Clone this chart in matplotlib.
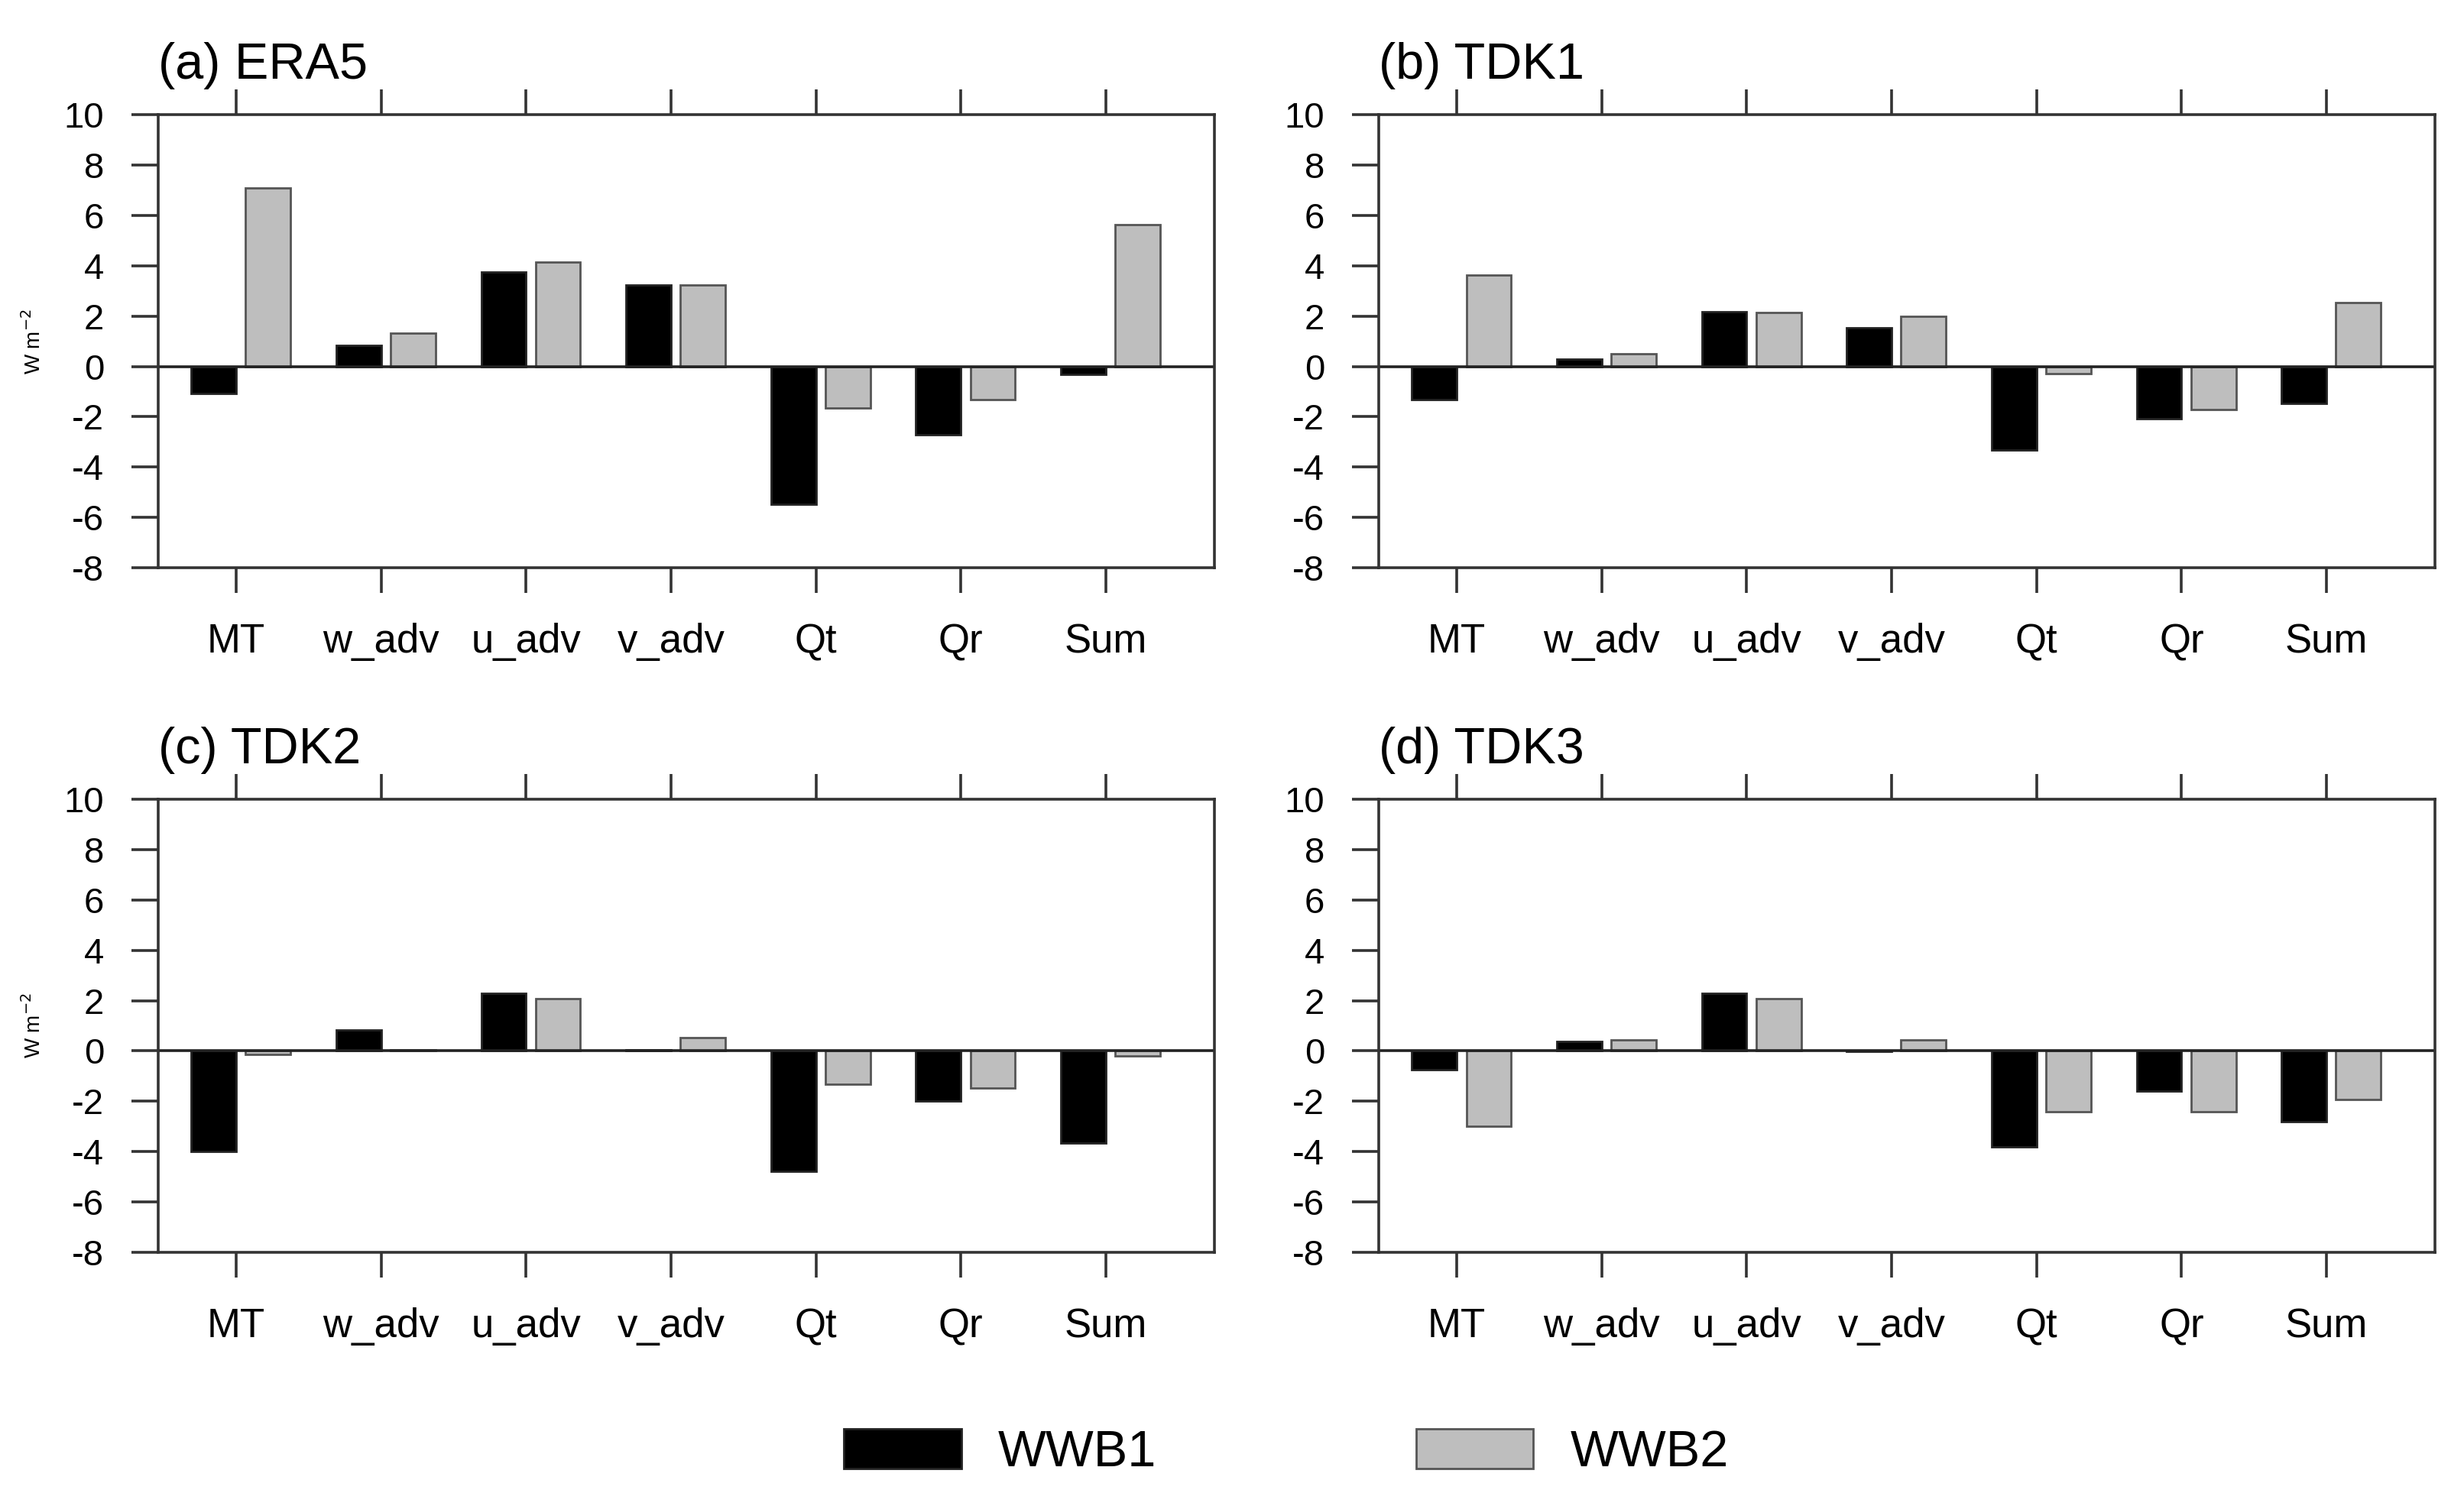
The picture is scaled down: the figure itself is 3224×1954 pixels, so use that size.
import matplotlib
matplotlib.use("Agg")
import matplotlib.pyplot as plt
import numpy as np

plt.rcParams['font.family'] = ['Liberation Sans', 'DejaVu Sans']

# categories and panels
terms = ['MT', 'w_adv', 'u_adv', 'v_adv', 'Qt', 'Qr', 'Sum']
titles = ['(a) ERA5', '(b) TDK1', '(c) TDK2', '(d) TDK3']

# WWB1 / WWB2 values (W m-2)
era5_wwb1 = [-1.08, 0.84, 3.76, 3.24, -5.47, -2.72, -0.33]
era5_wwb2 = [7.10, 1.32, 4.15, 3.22, -1.64, -1.31, 5.64]
tdk1_wwb1 = [-1.32, 0.28, 2.16, 1.53, -3.31, -2.09, -1.48]
tdk1_wwb2 = [3.64, 0.49, 2.13, 2.00, -0.30, -1.72, 2.54]
tdk2_wwb1 = [-4.00, 0.82, 2.28, 0.03, -4.77, -2.00, -3.66]
tdk2_wwb2 = [-0.14, 0.03, 2.09, 0.52, -1.31, -1.48, -0.21]
tdk3_wwb1 = [-0.75, 0.37, 2.28, -0.02, -3.80, -1.60, -2.80]
tdk3_wwb2 = [-3.00, 0.45, 2.09, 0.45, -2.42, -2.42, -1.92]

wwb1_all = [era5_wwb1, tdk1_wwb1, tdk2_wwb1, tdk3_wwb1]
wwb2_all = [era5_wwb2, tdk1_wwb2, tdk2_wwb2, tdk3_wwb2]

yticks = np.arange(-8, 11, 2)

fig = plt.figure(figsize=(16.12, 9.77), dpi=200)

w_ax, h_ax = 0.4287, 0.3035
positions = [(0.0642, 0.6197), (0.5596, 0.6197),
             (0.0642, 0.1612), (0.5596, 0.1612)]

x = np.arange(1, len(terms) + 1)
bw = 0.31
gap = 0.065

for i in range(4):
    ax = fig.add_axes([positions[i][0], positions[i][1], w_ax, h_ax])

    b1 = ax.bar(x - bw / 2, wwb1_all[i], bw, color='black', edgecolor='#222222', linewidth=1.0)
    b2 = ax.bar(x + gap + bw / 2, wwb2_all[i], bw, color='#bebebe', edgecolor='#555555', linewidth=1.0)
    ax.axhline(0, color='#222222', linewidth=1.3)

    ax.set_xlim(0.462, 7.75)
    ax.set_ylim(-8, 10)
    ax.set_yticks(yticks)
    ax.set_yticklabels([str(v) for v in yticks])
    ax.set_xticks(x)
    ax.set_xticklabels(terms)

    ax.tick_params(axis='y', direction='out', length=12.5, width=1.3, pad=13,
                   labelsize=17, left=True, right=False, colors='#333333', labelcolor='black')
    ax.tick_params(axis='x', direction='out', length=12, width=1.3, pad=14,
                   labelsize=19, top=True, bottom=True, labeltop=False,
                   colors='#333333', labelcolor='black')
    for s in ax.spines.values():
        s.set_linewidth(1.3)
        s.set_color('#333333')

    ax.set_title(titles[i], loc='left', fontsize=24, pad=17)

    if i % 2 == 0:
        ax.set_ylabel('W m$^{-2}$', fontsize=10, labelpad=9)

fig.legend([b1, b2], ['WWB1', 'WWB2'], loc='center', bbox_to_anchor=(0.522, 0.027),
           ncol=2, frameon=False, fontsize=24, handlelength=2.3, handleheight=0.82,
           handletextpad=0.72, columnspacing=5.1)

fig.savefig('out.png', dpi=200)
